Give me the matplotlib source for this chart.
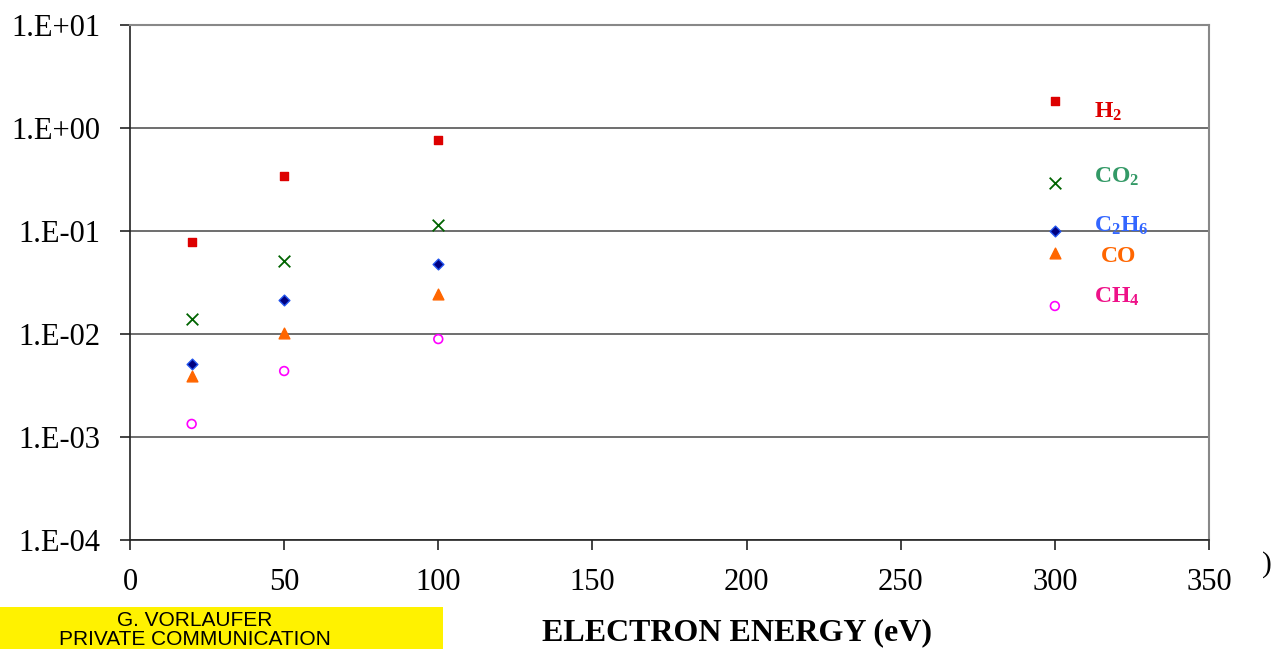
import matplotlib
matplotlib.use("Agg")
import matplotlib.pyplot as plt
from matplotlib.patches import Rectangle

plt.rcParams["mathtext.fontset"] = "custom"
plt.rcParams["mathtext.rm"] = "Liberation Serif"
plt.rcParams["mathtext.bf"] = "Liberation Serif:bold"
plt.rcParams["mathtext.it"] = "Liberation Serif:italic"

energy = [20, 50, 100, 300]
h2 = [0.078, 0.342, 0.764, 1.83]
co2 = [0.0140, 0.051, 0.114, 0.292]
c2h6 = [0.0051, 0.0214, 0.0478, 0.100]
co = [0.0039, 0.0102, 0.0244, 0.061]
ch4 = [0.00134, 0.00437, 0.00893, 0.0187]

ytick_vals = [1e-4, 1e-3, 1e-2, 1e-1, 1e0, 1e1]
ytick_labels = ["1.E-04", "1.E-03", "1.E-02", "1.E-01", "1.E+00", "1.E+01"]
xtick_vals = [0, 50, 100, 150, 200, 250, 300, 350]

serif = ["Liberation Serif", "DejaVu Serif"]

fig = plt.figure(figsize=(12.74, 6.49), dpi=100)
ax = fig.add_axes([130/1274, 1-540/649, (1209-130)/1274, (540-25)/649])

ax.set_yscale("log")
ax.set_xlim(0, 350)
ax.set_ylim(1e-4, 1e1)

ax.scatter(energy, h2, marker="s", s=40, color="#dd0000", zorder=3)
ax.scatter(energy, co2, marker="x", s=70, color="#006400", linewidths=1.3, zorder=3)
ax.scatter(energy, c2h6, marker="D", s=30, facecolor="#000080", edgecolor="#2255ee", linewidths=1.0, zorder=3)
ax.scatter(energy, co, marker="^", s=60, color="#ff6600", zorder=3)
ax.scatter(energy, ch4, marker="o", s=40, facecolor="none", edgecolor="#ff00ff", linewidths=1.2, zorder=3)

ax.set_yticks(ytick_vals)
ax.set_yticklabels(ytick_labels)
ax.yaxis.set_minor_locator(matplotlib.ticker.NullLocator())
ax.set_xticks(xtick_vals)
ax.set_xticklabels([str(v) for v in xtick_vals])
for lab in ax.get_xticklabels() + ax.get_yticklabels():
    lab.set_fontfamily(serif)
    lab.set_fontsize(22)
ax.tick_params(axis="both", direction="out", length=7, width=1.2, color="#222222")
ax.tick_params(axis="y", pad=14)
ax.tick_params(axis="x", pad=13)

ax.grid(axis="y", color="#555555", linewidth=1.2)
ax.set_axisbelow(True)
ax.spines["left"].set_color("#222222")
ax.spines["bottom"].set_color("#222222")
ax.spines["left"].set_linewidth(1.2)
ax.spines["bottom"].set_linewidth(1.2)
ax.spines["top"].set_color("#888888")
ax.spines["right"].set_color("#888888")
ax.spines["top"].set_linewidth(1.5)
ax.spines["right"].set_linewidth(1.5)

# series labels
lab_kw = dict(fontfamily=serif, fontsize=17, fontweight="bold", ha="left", va="center")
fig.text(1094/1274, 1-112/649, r"H$_\mathbf{2}$", color="#dd0000", **lab_kw)
fig.text(1094/1274, 1-177/649, r"CO$_\mathbf{2}$", color="#339966", **lab_kw)
fig.text(1094/1274, 1-226/649, r"C$_\mathbf{2}$H$_\mathbf{6}$", color="#3366ff", **lab_kw)
fig.text(1101/1274, 1-257/649, "CO", color="#ff6600", **lab_kw)
fig.text(1094/1274, 1-297/649, r"CH$_\mathbf{4}$", color="#ee1188", **lab_kw)

fig.text(737/1274, 1-633/649, "ELECTRON ENERGY (eV)", fontfamily=serif, fontsize=23,
         fontweight="bold", ha="center", va="center")
fig.text(1272/1274, 1-565/649, ")", fontfamily=serif, fontsize=21, ha="right", va="center")

fig.patches.append(Rectangle((0, 0), 443/1274, 42/649, transform=fig.transFigure,
                             facecolor="#fff200", edgecolor="none", zorder=0))
sans = ["Liberation Sans", "DejaVu Sans"]
fig.text(195/1274, 1-620/649, "G. VORLAUFER", fontfamily=sans,
         fontsize=15, ha="center", va="center")
fig.text(195/1274, 0/649, "PRIVATE COMMUNICATION", fontfamily=sans,
         fontsize=15, ha="center", va="bottom")

fig.savefig("out.png", dpi=100)
